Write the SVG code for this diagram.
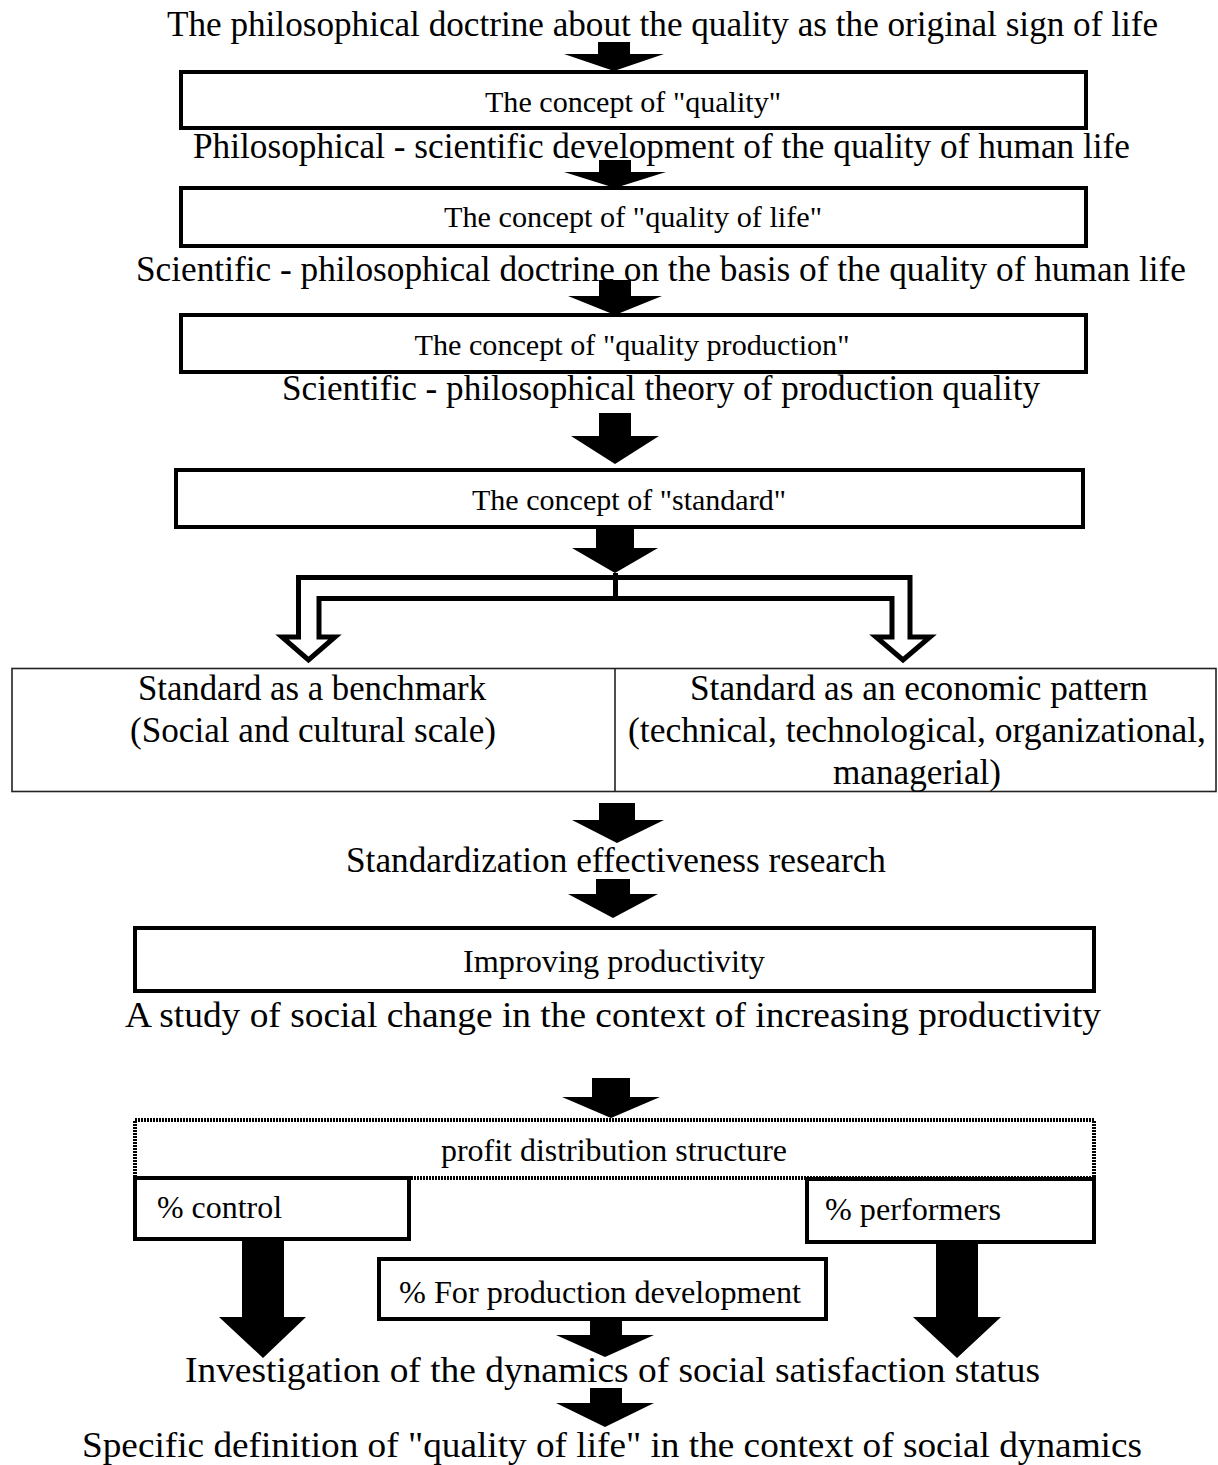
<svg xmlns="http://www.w3.org/2000/svg" width="1218" height="1465" viewBox="0 0 1218 1465" font-family="'Liberation Serif','Times New Roman',serif">
<style>
text{font-family:"Liberation Serif","Times New Roman",serif;fill:#000}
.b{font-size:35px}
.s{font-size:30px}
.p{font-size:32px}
.m{text-anchor:middle}
.box{fill:#fff;stroke:#000;stroke-width:4}
.dot{fill:#fff;stroke:#000;stroke-width:4;stroke-dasharray:2 1}
.tbl{fill:#fff;stroke:#222;stroke-width:1.6}
.arr{fill:#000;stroke:none}
.hol{fill:#fff;stroke:#000;stroke-width:5;stroke-linejoin:miter}
</style>
<rect width="1218" height="1465" fill="#fff"/>
<g id="connectors">
<polygon class="arr" points="598,42 630,42 630,54 664,54 614,71 564,54 598,54"/>
<polygon class="arr" points="599,160 631,160 631,172 666,172 615,188 564,172 599,172"/>
<polygon class="arr" points="599,280 631,280 631,296 662,296 615,315 568,296 599,296"/>
<polygon class="arr" points="599,413 631,413 631,436 659,436 615,464 571,436 599,436"/>
<polygon class="arr" points="596,527 634,527 634,548 658,548 615,573 572,548 596,548"/>
<path class="hol" d="M298.5,637 L298.5,577.5 L910,577.5 L910,637 L930,637 L903,660 L876,637 L892,637 L892,598.5 L319,598.5 L319,637 L335,637 L308.5,660 L282,637 Z"/>
<line x1="615.5" y1="573" x2="615.5" y2="598.5" stroke="#000" stroke-width="5"/>
<polygon class="arr" points="599,803 635,803 635,820 664,820 617,843 572,820 599,820"/>
<polygon class="arr" points="596,879 630,879 630,894 658,894 613,918 568,894 596,894"/>
<polygon class="arr" points="592,1078 630,1078 630,1097 660,1097 611,1118 562,1097 592,1097"/>
<polygon class="arr" points="242,1240 284,1240 284,1317 306,1317 263,1358 219,1317 242,1317"/>
<polygon class="arr" points="936,1243 978,1243 978,1317 1001,1317 957,1358 913,1317 936,1317"/>
<polygon class="arr" points="590,1320 622,1320 622,1335 654,1335 605,1357 556,1335 590,1335"/>
<polygon class="arr" points="590,1388 622,1388 622,1403 654,1403 605,1427 556,1403 590,1403"/>
</g>
<g id="title"><text class="b m" x="662.5" y="36" textLength="991" lengthAdjust="spacingAndGlyphs">The philosophical doctrine about the quality as the original sign of life</text></g>
<g id="n-quality"><rect class="box" x="181" y="72" width="905" height="56"/><text class="s m" x="633" y="112" textLength="296" lengthAdjust="spacingAndGlyphs">The concept of "quality"</text></g>
<g id="t-phil-sci"><text class="b m" x="661.5" y="158" textLength="937" lengthAdjust="spacingAndGlyphs">Philosophical - scientific development of the quality of human life</text></g>
<g id="n-quality-life"><rect class="box" x="181" y="188" width="905" height="58"/><text class="s m" x="633" y="227" textLength="378" lengthAdjust="spacingAndGlyphs">The concept of "quality of life"</text></g>
<g id="t-sci-phil"><text class="b m" x="661" y="281" textLength="1050" lengthAdjust="spacingAndGlyphs">Scientific - philosophical doctrine on the basis of the quality of human life</text></g>
<g id="n-quality-prod"><rect class="box" x="181" y="315" width="905" height="57"/><text class="s m" x="632" y="355" textLength="435" lengthAdjust="spacingAndGlyphs">The concept of "quality production"</text></g>
<g id="t-theory"><text class="b m" x="661" y="400" textLength="758" lengthAdjust="spacingAndGlyphs">Scientific - philosophical theory of production quality</text></g>
<g id="n-standard"><rect class="box" x="176" y="470" width="907" height="57"/><text class="s m" x="629" y="510" textLength="314" lengthAdjust="spacingAndGlyphs">The concept of "standard"</text></g>
<g id="n-table">
<rect class="tbl" x="12" y="668.5" width="1204" height="123"/>
<line x1="615" y1="668.5" x2="615" y2="791.5" stroke="#222" stroke-width="1.6"/>
<text class="b m" x="312" y="700" textLength="348" lengthAdjust="spacingAndGlyphs">Standard as a benchmark</text>
<text class="b m" x="313" y="742" textLength="366" lengthAdjust="spacingAndGlyphs">(Social and cultural scale)</text>
<text class="b m" x="919" y="700" textLength="458" lengthAdjust="spacingAndGlyphs">Standard as an economic pattern</text>
<text class="b m" x="917" y="742" textLength="578" lengthAdjust="spacingAndGlyphs">(technical, technological, organizational,</text>
<text class="b m" x="917" y="784" textLength="168" lengthAdjust="spacingAndGlyphs">managerial)</text>
</g>
<g id="t-effect"><text class="b m" x="616" y="872" textLength="540" lengthAdjust="spacingAndGlyphs">Standardization effectiveness research</text></g>
<g id="n-productivity"><rect class="box" x="135" y="928" width="959" height="63"/><text class="p m" x="614" y="972" textLength="302" lengthAdjust="spacingAndGlyphs">Improving productivity</text></g>
<g id="t-study"><text class="b m" x="613" y="1027" textLength="976" lengthAdjust="spacingAndGlyphs">A study of social change in the context of increasing productivity</text></g>
<g id="n-profit"><rect class="dot" x="135" y="1120" width="959" height="58"/><text class="p m" x="614" y="1161" textLength="346" lengthAdjust="spacingAndGlyphs">profit distribution structure</text></g>
<g id="n-control"><rect class="box" x="135" y="1178" width="274" height="61"/><text class="p" x="157" y="1218" textLength="125" lengthAdjust="spacingAndGlyphs">% control</text></g>
<g id="n-performers"><rect class="box" x="807" y="1179" width="287" height="63"/><text class="p" x="825" y="1220" textLength="176" lengthAdjust="spacingAndGlyphs">% performers</text></g>
<g id="n-proddev"><rect class="box" x="379" y="1259" width="447" height="60"/><text class="p m" x="600" y="1303" textLength="402" lengthAdjust="spacingAndGlyphs">% For production development</text></g>
<g id="t-investigation"><text class="b m" x="612.5" y="1382" textLength="855" lengthAdjust="spacingAndGlyphs">Investigation of the dynamics of social satisfaction status</text></g>
<g id="t-specific"><text class="b m" x="612" y="1457" textLength="1060" lengthAdjust="spacingAndGlyphs">Specific definition of "quality of life" in the context of social dynamics</text></g>
</svg>
